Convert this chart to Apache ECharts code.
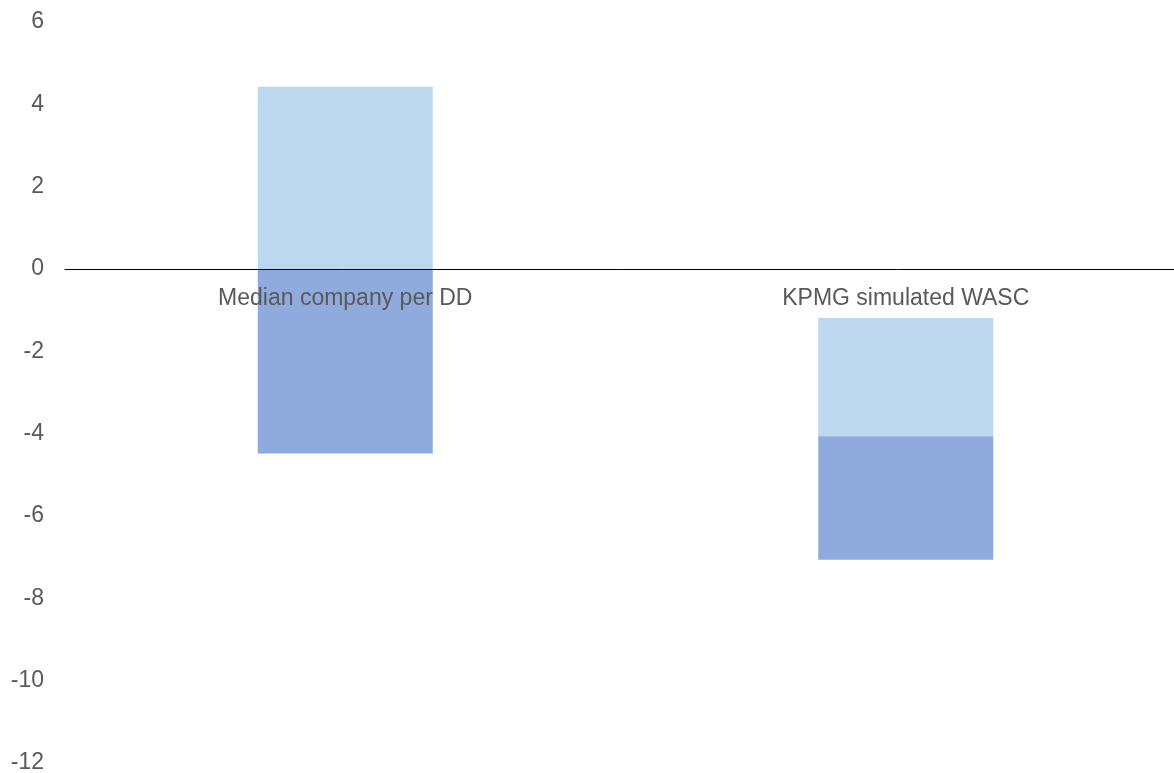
<html>
    <head>
        <meta charset="utf-8">
        <script src="https://cdn.jsdelivr.net/npm/echarts@6/dist/echarts.min.js"></script>
    </head>
    <body style="margin:0">
        <style>
            #main {
                position: absolute;
                left: 0;
                top: 0;
                width: 1174px;
                height: 773px;
            }
        </style>
        <div id="main"></div>

        <script>
            // categories and floating bar pieces (base is invisible)
            var categories = ['Median company per DD', 'KPMG simulated WASC'];
            var baseVals = [0, -1.19];
            var lightVals = [4.43, -2.87];
            var darkVals = [-4.48, -3.0];

            var yMin = -12, yMax = 6;

            var chart = echarts.init(document.getElementById('main'));

            var font = '"Liberation Sans", Arial, sans-serif';
            var gridTop = 22, gridBottom = 10;
            var gridH = 773 - gridTop - gridBottom;
            // move the category axis up to the zero line, labels included
            var zeroOffset = -gridH * (0 - yMin) / (yMax - yMin);

            chart.setOption({
                animation: false,
                grid: {
                    left: 65,
                    right: -12,
                    top: gridTop,
                    bottom: gridBottom,
                    containLabel: false,
                    outerBoundsMode: 'none'
                },
                xAxis: {
                    type: 'category',
                    data: categories,
                    z: 5,
                    offset: zeroOffset,
                    axisLine: {onZero: false, lineStyle: {color: '#000', width: 1}},
                    axisTick: {show: false},
                    axisLabel: {
                        color: '#595959',
                        fontSize: 23,
                        fontFamily: font,
                        margin: 18
                    },
                    splitLine: {show: false}
                },
                yAxis: {
                    type: 'value',
                    min: yMin,
                    max: yMax,
                    interval: 2,
                    axisLine: {show: false},
                    axisTick: {show: false},
                    splitLine: {show: false},
                    axisLabel: {
                        color: '#595959',
                        fontSize: 23,
                        fontFamily: font,
                        margin: 21
                    }
                },
                series: [
                    {
                        name: 'base',
                        type: 'bar',
                        stack: 'total',
                        barWidth: 175,
                        itemStyle: {color: 'transparent'},
                        data: baseVals
                    },
                    {
                        name: 'light',
                        type: 'bar',
                        stack: 'total',
                        barWidth: 175,
                        itemStyle: {color: '#BDD7EE'},
                        data: lightVals
                    },
                    {
                        name: 'dark',
                        type: 'bar',
                        stack: 'total',
                        barWidth: 175,
                        itemStyle: {color: '#8FAADC'},
                        data: darkVals
                    }
                ]
            });
        </script>
    </body>
</html>
